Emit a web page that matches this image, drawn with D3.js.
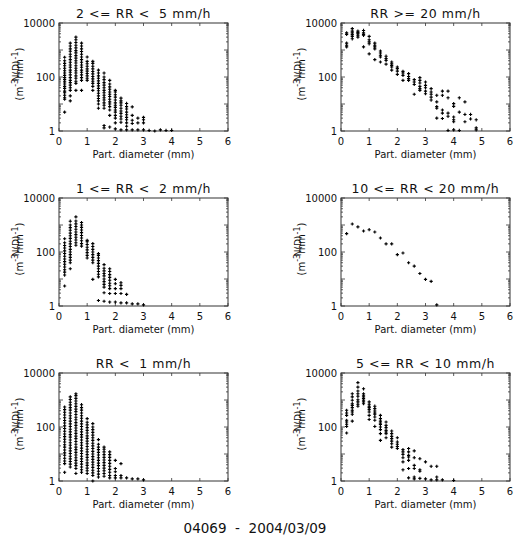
<!DOCTYPE html>
<html>
<head>
<meta charset="utf-8">
<script src="https://cdn.jsdelivr.net/npm/d3@7"></script>
<style>
    body { margin: 0; background: #fff; }
    text { font-family: "DejaVu Sans", sans-serif; fill: #111; }
</style>
</head>
<body>
<svg id="dsd"></svg>
<script>
const width = 518, height = 537

// bin centres (mm)
const diameters = [0.2, 0.4, 0.6, 0.8, 1.0, 1.2, 1.4, 1.6, 1.8, 2.0, 2.2, 2.4,
    2.6, 2.8, 3.0, 3.2, 3.4, 3.6, 3.8, 4.0, 4.2, 4.4, 4.6, 4.8]

const xTicks = [0, 1, 2, 3, 4, 5, 6]
const yLabels = [1, 100, 10000]

// N(D) values per bin, one list per diameter class
const rr2to5 = [
    [5, 15, 17, 21, 26, 30, 38, 45, 55, 66, 80, 95, 115, 140, 170, 210, 260, 320, 400, 540],
    [13, 20, 32, 40, 50, 62, 75, 95, 120, 150, 180, 230, 280, 350, 440, 560, 700, 900, 1100, 1400, 1800],
    [32, 58, 70, 90, 110, 140, 170, 210, 260, 330, 400, 500, 620, 780, 950, 1200, 1500, 1900, 2400, 3000],
    [32, 75, 95, 120, 150, 180, 230, 280, 350, 440, 550, 700, 880, 1100, 1400, 1800],
    [75, 90, 110, 135, 165, 200, 250, 310, 380, 550],
    [32, 45, 58, 70, 85, 105, 130, 160, 200, 250, 320, 380],
    [7, 10, 13, 16, 20, 25, 31, 38, 47, 58, 72, 90, 110, 140, 180],
    [1.3, 1.6, 7, 9, 11, 14, 17, 21, 26, 32, 40, 50, 62, 80, 100, 140],
    [1.4, 3.8, 6, 8, 10, 12, 15, 19, 23, 28, 35, 43, 55, 75],
    [1.2, 2, 3, 3.8, 5, 6, 7.5, 9, 11, 14, 18, 22, 28, 32],
    [1.1, 2.1, 2.8, 3.5, 4.5, 5.5, 7, 9, 11, 13, 16.5],
    [1.1, 1.5, 2, 2.6, 3.2, 4, 5, 6.5, 8, 10.5],
    [1.1, 1.9, 2.5, 3.8, 7.8],
    [1.1, 2, 3],
    [1.1, 2, 2.6, 3.2],
    [1.05], [1.0], [1.1], [1.05], [1.05],
]

const rr20plus = [
    [1300, 1500, 1800, 3800, 4300],
    [2600, 3200, 3700, 4300, 5000, 6200],
    [3000, 3500, 4000, 4400, 5000],
    [1300, 3500, 3800, 4300, 5300],
    [720, 1700, 2000, 2400, 3200],
    [440, 1100, 1300, 1500, 1800],
    [360, 550, 640, 770, 920],
    [300, 410, 480, 590],
    [180, 235, 270, 310, 360],
    [125, 165, 205, 235],
    [75, 115, 140, 162],
    [75, 87, 105, 133],
    [23, 53, 65, 80],
    [32, 37, 45, 60, 75, 95],
    [24, 30, 40, 49, 65],
    [14, 18, 23, 28, 37],
    [3, 7, 8, 12, 21],
    [2.9, 4.6, 6, 21, 30],
    [1.05, 3.5, 4.6, 17, 30],
    [1.1, 2.2, 2.6, 3.3, 8.2, 10.3],
    [1.05, 5, 17],
    [2.2, 4.1, 12],
    [2.8, 4.1],
    [1.1, 1.3, 2.6],
]

const rr1to2 = [
    [5.5, 14, 18, 22, 28, 35, 44, 55, 70, 88, 110, 140, 175, 220, 310],
    [24, 40, 50, 63, 80, 100, 125, 160, 200, 250, 320, 400, 500, 640, 800, 1000, 1380],
    [178, 220, 280, 350, 440, 550, 700, 880, 1100, 1400, 2000],
    [165, 205, 260, 330, 410, 520, 650, 820, 1000, 1230],
    [60, 75, 95, 120, 150, 190, 240, 270],
    [9.7, 40, 50, 63, 80, 100, 125, 160, 205],
    [1.6, 12, 15, 19, 24, 30, 38, 48, 60, 75, 87],
    [1.5, 3.1, 5, 6.3, 8, 10, 13, 16, 20, 25, 34],
    [1.4, 2.9, 4.4, 5.6, 7, 9, 11.5, 14.5, 19, 24],
    [1.4, 2.9, 4.4, 6.7, 9.7],
    [1.3, 2.9, 4.4, 5.8, 7.3],
    [1.3, 2.7],
    [1.2], [1.2], [1.1],
]

const rr10to20 = [
    [480], [1090], [850], [600], [670], [550], [330], [200], [200],
    [80], [92], [40], [30], [16], [9.7], [8.2], [1.1],
]

const rr0to1 = [
    [2.1, 4.4, 5.5, 7, 9, 11, 14, 18, 22, 28, 35, 44, 55, 70, 88, 110, 140, 175, 220, 280, 350, 440, 550],
    [3.3, 4.2, 5.3, 6.6, 8.3, 10.5, 13, 16.5, 21, 26, 33, 42, 52, 66, 83, 105, 130, 165, 210, 260, 330, 420, 520, 660, 830, 1050, 1300],
    [1.9, 2.9, 3.7, 4.6, 5.8, 7.3, 9.2, 11.5, 14.5, 18, 23, 29, 37, 46, 58, 73, 92, 115, 145, 185, 230, 290, 370, 460, 580, 730, 920, 1150, 1450, 1700],
    [2.1, 2.6, 3.3, 4.2, 5.3, 6.6, 8.3, 10.5, 13, 16.5, 21, 26, 33, 42, 52, 66, 83, 105, 130, 165, 210, 260, 330, 420, 520, 670],
    [1.9, 2.4, 3, 3.8, 4.7, 6, 7.5, 9.5, 12, 15, 19, 24, 30, 38, 47, 60, 75, 95, 120, 150, 205],
    [1.0, 1.6, 2, 2.5, 3.2, 4, 5, 6.3, 8, 10, 12.5, 16, 20, 25, 32, 40, 50, 63, 80, 100, 133],
    [1.4, 1.8, 2.3, 2.9, 3.7, 4.6, 5.8, 7.3, 9.2, 11.5, 14.5, 18, 23, 34],
    [1.5, 1.9, 2.4, 3, 3.8, 4.8, 6, 7.5, 9.5, 12, 15, 18],
    [1.3, 1.6, 2.1, 2.7, 3.5, 4.5, 5.8, 7.5, 9.5, 12],
    [1.3, 1.6, 2.2, 2.9, 5.8],
    [1.3, 1.6, 4.4],
    [1.3], [1.2], [1.2], [1.1],
]

const rr5to10 = [
    [60, 105, 127, 153, 178, 270, 330, 415],
    [165, 295, 360, 415, 520, 630, 730, 980, 1300, 1700],
    [590, 700, 850, 1020, 1370, 1700, 2150, 3000, 4400],
    [730, 850, 980, 1120, 1300, 1500, 1700, 2600],
    [190, 270, 360, 440, 520, 590, 700, 850],
    [105, 178, 235, 295, 330, 390, 480, 590],
    [32, 57, 80, 100, 125, 140, 165, 205, 270],
    [40, 57, 65, 75, 95, 115, 153],
    [18, 24, 30, 37, 45, 57, 71],
    [16, 19, 23, 28, 40],
    [2.6, 5.1, 7.3, 9.7, 12, 14.5],
    [1.3, 2.9, 5.8, 7.7, 8.9, 12, 16],
    [1.2, 1.4, 2.9, 3.8, 7.3, 13],
    [1.25, 2.3, 2.6, 6.7],
    [1.2, 5.1],
    [1.1, 3.5],
    [1.1, 1.4, 3.5],
    [1.1],
    [],
    [1.05],
]

const panels = [
    {title: "2 <= RR <  5 mm/h", values: rr2to5, row: 0, col: 0},
    {title: "RR >= 20 mm/h", values: rr20plus, row: 0, col: 1},
    {title: "1 <= RR <  2 mm/h", values: rr1to2, row: 1, col: 0},
    {title: "10 <= RR < 20 mm/h", values: rr10to20, row: 1, col: 1},
    {title: "RR <  1 mm/h", values: rr0to1, row: 2, col: 0},
    {title: "5 <= RR < 10 mm/h", values: rr5to10, row: 2, col: 1},
]

const caption = "04069  -  2004/03/09"

const box = {w: 169, h: 108}
const colX = [59, 341]
const rowY = [23, 198, 373]

const svg = d3.select("svg#dsd")
    .attr("viewBox", [0, 0, width, height])
    .attr("width", width)
    .attr("height", height)

const xScale = d3.scaleLinear().domain([0, 6]).range([0, box.w])
const yScale = d3.scaleLog().domain([1, 10000]).range([box.h, 0])

// every decade gets a long tick, 2..9 get short ones
const minorTicks = []
for (let e = 0; e < 4; e++) {
    for (let k = 2; k <= 9; k++) minorTicks.push(k * Math.pow(10, e))
}
const majorTicks = [1, 10, 100, 1000, 10000]

function drawPanel(p) {
    const g = svg.append("g")
        .attr("transform", `translate(${colX[p.col]}, ${rowY[p.row]})`)

    // title
    g.append("text")
        .attr("x", box.w / 2)
        .attr("y", -5)
        .attr("text-anchor", "middle")
        .attr("font-size", 12.5)
        .attr("letter-spacing", 0.6)
        .style("white-space", "pre")
        .text(p.title)

    // frame
    g.append("rect")
        .attr("width", box.w)
        .attr("height", box.h)
        .attr("fill", "none")
        .attr("stroke", "#333")
        .attr("stroke-width", 1)

    const ticks = g.append("g").attr("stroke", "#333").attr("stroke-width", 0.8)

    // y ticks, left and right side
    for (const [vals, len] of [[majorTicks, 4], [minorTicks, 2]]) {
        ticks.selectAll(null)
            .data(vals)
            .enter()
            .append("path")
            .attr("d", d => `M0,${yScale(d)}h${len}M${box.w},${yScale(d)}h${-len}`)
    }

    // x ticks, bottom and top
    ticks.selectAll(null)
        .data(xTicks)
        .enter()
        .append("path")
        .attr("d", d => `M${xScale(d)},${box.h}v-3M${xScale(d)},0v3`)

    // tick labels
    g.append("g").selectAll("text")
        .data(xTicks)
        .enter()
        .append("text")
        .attr("x", d => xScale(d))
        .attr("y", box.h + 14)
        .attr("text-anchor", "middle")
        .attr("font-size", 10)
        .text(d => d)

    g.append("g").selectAll("text")
        .data(yLabels)
        .enter()
        .append("text")
        .attr("x", -4)
        .attr("y", d => yScale(d) + 4)
        .attr("text-anchor", "end")
        .attr("font-size", 10)
        .text(d => d)

    // axis titles
    g.append("text")
        .attr("x", xScale(3))
        .attr("y", box.h + 27)
        .attr("text-anchor", "middle")
        .attr("font-size", 10)
        .text("Part. diameter (mm)")

    // y title: IDL draws N(D) on top of the units line
    const yt = g.append("g")
        .attr("transform", `translate(-36, ${box.h / 2}) rotate(-90)`)
    yt.append("text")
        .attr("x", 6)
        .attr("y", -4)
        .attr("text-anchor", "middle")
        .attr("font-size", 9)
        .text("N(D)")
    const unit = yt.append("text")
        .attr("x", 3)
        .attr("y", 0)
        .attr("text-anchor", "middle")
        .attr("font-size", 10)
    unit.append("tspan").text("(m")
    unit.append("tspan").attr("dy", -5).attr("font-size", 8).text("-3")
    unit.append("tspan").attr("dy", 5).text("mm")
    unit.append("tspan").attr("dy", -5).attr("font-size", 8).text("-1")
    unit.append("tspan").attr("dy", 5).text(")")

    // points
    const pts = []
    p.values.forEach((vals, i) => {
        for (const v of vals) pts.push({d: diameters[i], n: v})
    })
    g.append("g")
        .attr("stroke", "#000")
        .attr("stroke-width", 1.1)
        .selectAll("path")
        .data(pts)
        .enter()
        .append("path")
        .attr("d", d => {
            const x = xScale(d.d), y = yScale(d.n)
            return `M${x - 1.6},${y}h3.2M${x},${y - 1.6}v3.2`
        })
}

panels.forEach(drawPanel)

svg.append("text")
    .attr("x", 255)
    .attr("y", 533)
    .attr("text-anchor", "middle")
    .attr("font-size", 13.5)
    .style("white-space", "pre")
    .text(caption)
</script>
</body>
</html>
